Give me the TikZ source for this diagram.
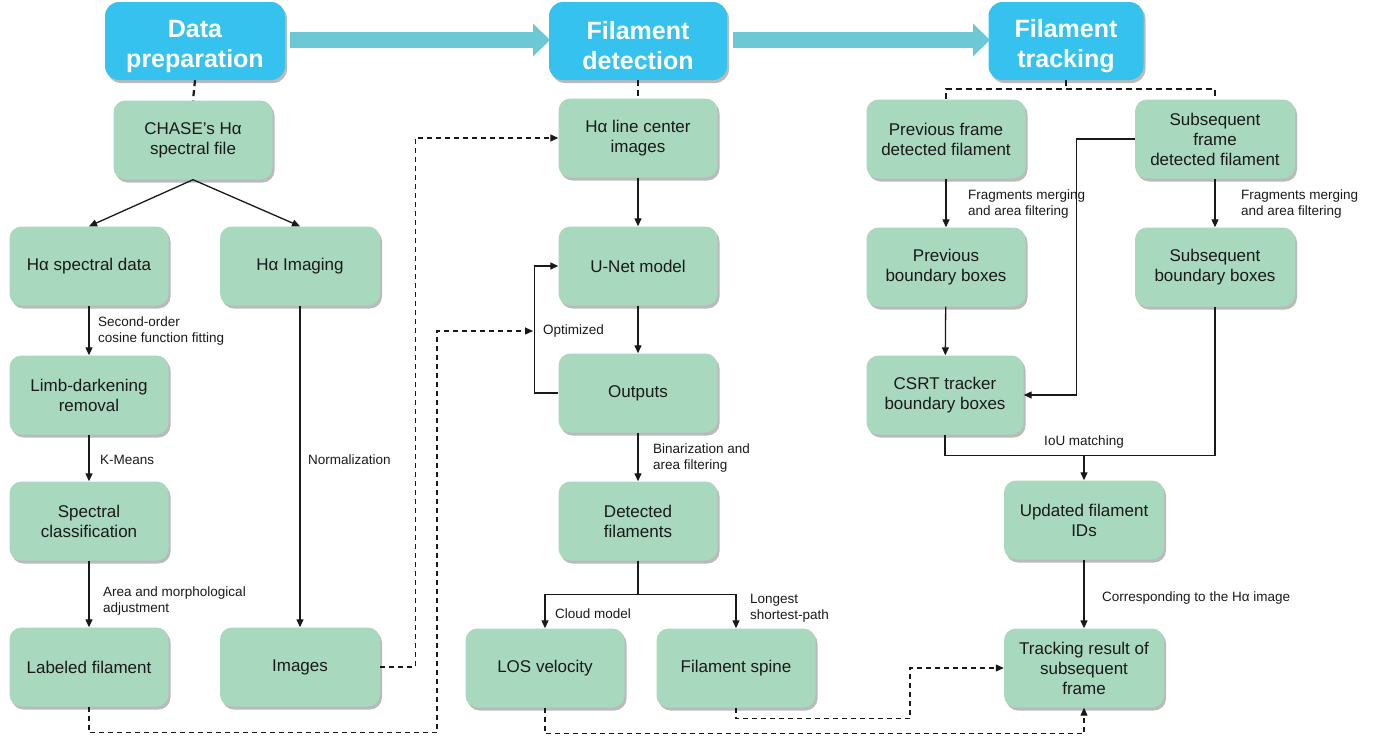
\documentclass[tikz,border=0pt]{standalone}
\usepackage{fontspec}
\setmainfont{Liberation Sans}
\usetikzlibrary{arrows.meta,shadows,positioning}
\definecolor{hdrblue}{HTML}{36C2EE}
\definecolor{boxgreen}{HTML}{A8D8BE}
\definecolor{barcyan}{HTML}{6CC8D5}
\definecolor{txt}{HTML}{1A1A1A}
\newcommand{\hstrut}{\rule{0pt}{28pt}}
\tikzset{
  hdr/.style={rounded corners=14pt, fill=hdrblue, text=white, align=center,
    font=\bfseries\fontsize{25}{30}\selectfont, minimum height=78pt, inner sep=0pt,
    drop shadow={shadow xshift=2pt, shadow yshift=-3pt, opacity=0.45, fill=black!60}},
  gbox/.style={rounded corners=12pt, fill=boxgreen, text=txt, align=center,
    font=\fontsize{17}{20}\selectfont, minimum width=159pt, minimum height=79pt, inner sep=0pt,
    drop shadow={shadow xshift=2pt, shadow yshift=-3pt, opacity=0.45, fill=black!60}},
  lbl/.style={anchor=west, align=left, text=txt, inner sep=0pt,
    font=\fontsize{13.5}{16}\selectfont},
  conn/.style={line width=1.3pt, draw=black!90},
  arr/.style={conn, -{Triangle[length=8pt,width=7pt]}},
  dsh/.style={line width=1.2pt, draw=black!90, dash pattern=on 5pt off 4pt},
  darr/.style={dsh, -{Triangle[length=8pt,width=7pt]}},
  tdsh/.style={line width=2.2pt, draw=black!90, dash pattern=on 6pt off 4pt},
  bigarr/.style={line width=16pt, draw=barcyan, -{Triangle[length=17pt,width=32pt]}},
}
\begin{document}
\begin{tikzpicture}[x=1pt,y=-1pt]
\useasboundingbox (0,0) rectangle (1375,736);

% headers
\node[hdr, minimum width=180pt] (hdp) at (195,41) {\hstrut Data\\preparation};
\node[hdr, minimum width=178pt] (hfd) at (638,41) {\hstrut Filament\\detection};
\node[hdr, minimum width=155pt] (hft) at (1066,41) {\hstrut Filament\\tracking};

% big arrows
\coordinate (b1s) at (290,40);
\coordinate (b1e) at (550,40);
\coordinate (b2s) at (733,40);
\coordinate (b2e) at (990,40);
\draw[bigarr] (b1s) -- (b1e);
\draw[bigarr] (b2s) -- (b2e);

% column 1
\node[gbox] (chase) at (193,140) {CHASE’s Hα\\spectral file};
\node[gbox] (spd) at (89,266) {Hα spectral data};
\node[gbox, minimum width=160pt] (himg) at (300,266) {Hα Imaging};
\node[gbox] (limb) at (89,395) {Limb-darkening\\removal};
\node[gbox] (spc) at (89,521) {Spectral\\classification};
\node[gbox] (lab) at (89,667) {Labeled filament};
\node[gbox, minimum width=160pt] (img) at (300,667) {Images};

% column 2
\node[gbox] (hlc) at (638,138) {Hα line center\\images};
\node[gbox] (unet) at (638,266) {U-Net model};
\node[gbox] (out) at (638,393) {Outputs};
\node[gbox] (det) at (638,521) {Detected\\filaments};
\node[gbox] (los) at (545,668) {LOS velocity};
\node[gbox] (spine) at (736,668) {Filament spine};

% column 3
\node[gbox] (prev) at (946,139) {Previous frame\\detected filament};
\node[gbox, minimum width=160pt] (sub) at (1215,139) {Subsequent\\frame\\detected filament};
\node[gbox] (pbb) at (946,267) {Previous\\boundary boxes};
\node[gbox, minimum width=160pt] (sbb) at (1215,267) {Subsequent\\boundary boxes};
\node[gbox, minimum width=157pt] (csrt) at (945,395) {CSRT tracker\\boundary boxes};
\node[gbox, minimum width=160pt] (upd) at (1084,520) {Updated filament\\IDs};
\node[gbox, minimum width=160pt] (trk) at (1084,668) {Tracking result of\\subsequent\\frame};

% header dashed links
\draw[tdsh] (hdp.south) -- (chase.north);
\draw[tdsh] (hfd.south) -- (hlc.north);
\draw[tdsh] (hft.south) -- ++(0,9);
\draw[tdsh] (prev.north) -- ++(0,-10) -| (sub.north);

% column 1 connectors
\draw[arr] (chase.south) -- (spd.north);
\draw[arr] (chase.south) -- (himg.north);
\draw[arr] (spd) -- (limb);
\draw[arr] (limb) -- (spc);
\draw[arr] (spc) -- (lab);
\draw[arr] (himg) -- (img);
\node[lbl] (l1) at (98,331) {Second-order\\cosine function fitting};
\node[lbl] (l2) at (100,460) {K-Means};
\node[lbl] (l3) at (103,601) {Area and morphological\\adjustment};
\node[lbl] (l4) at (308,460) {Normalization};

% dashed cross links
\coordinate (optin) at (533,331);
\coordinate (c5) at (910,668);
\draw[darr] (img.east) -- ++(35,0) |- (hlc.west);
\draw[darr] (lab.south) -- ++(0,26) -| (437,331) -- (optin);
\draw[darr] (los.south) -- ++(0,26) -| (trk.south);
\draw[darr] (spine.south) -- ++(0,11) -| (c5) -- (trk.west);

% column 2 connectors
\draw[arr] (hlc) -- (unet);
\draw[arr] (unet) -- (out);
\draw[arr] (out.west) -- ++(-24,0) |- (unet.west);
\node[lbl] (l5) at (543,331) {Optimized};
\draw[arr] (out) -- (det);
\node[lbl] (l6) at (653,458) {Binarization and\\area filtering};
\draw[arr] (det.south) -- ++(0,34) -| (los.north);
\draw[arr] (det.south) -- ++(0,34) -| (spine.north);
\node[lbl] (l7) at (555,614) {Cloud model};
\node[lbl] (l8) at (750,608) {Longest\\shortest-path};

% column 3 connectors
\draw[arr] (prev) -- (pbb);
\draw[arr] (sub) -- (sbb);
\node[lbl] (l9) at (968,204) {Fragments merging\\and area filtering};
\node[lbl] (l10) at (1241,204) {Fragments merging\\and area filtering};
\draw[arr] (pbb) -- (csrt);
\draw[arr] (sub.west) -- ++(-58,0) |- (csrt.east);
\coordinate (iou) at (1084,455);
\draw[conn] (csrt.south) -- ++(0,21) -| (sbb.south);
\draw[arr] (iou) -- (upd.north);
\node[lbl, anchor=center] (l11) at (1084,442) {IoU matching};
\draw[arr] (upd) -- (trk);
\node[lbl] (l12) at (1102,598) {Corresponding to the Hα image};
\end{tikzpicture}
\end{document}
